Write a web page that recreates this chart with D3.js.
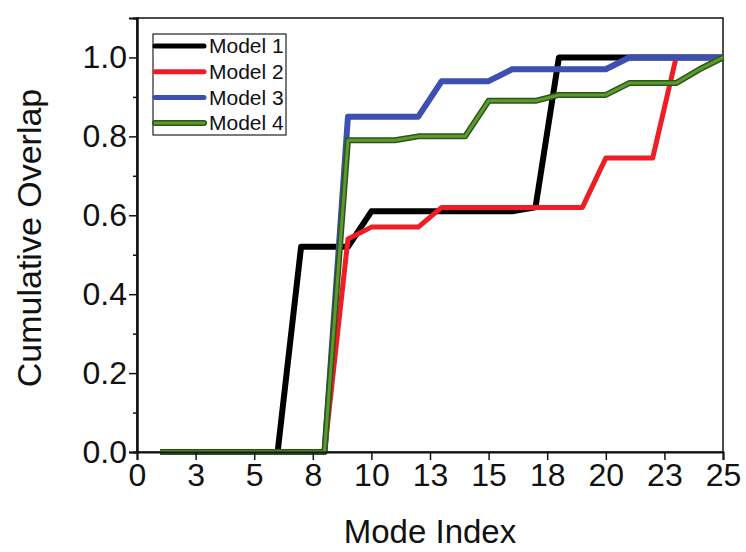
<!DOCTYPE html>
<html>
<head>
<meta charset="utf-8">
<script src="https://cdn.jsdelivr.net/npm/d3@7"></script>
<style>
  body { margin: 0; background: #fff; }
  svg text { font-family: Arial, 'Liberation Sans', Helvetica, sans-serif; fill: #111; }
</style>
</head>
<body>
<div id="line-chart"></div>
<script>
// mode index (x) and cumulative overlap of each model
const mode_index = [1, 2, 3, 4, 5, 6, 7, 8, 9, 10, 11, 12, 13, 14, 15, 16, 17, 18, 19, 20, 21, 22, 23, 24, 25];
const model_1 = [0, 0, 0, 0, 0, 0, 0.52, 0.52, 0.52, 0.61, 0.61, 0.61, 0.61, 0.61, 0.61, 0.61, 0.62, 1, 1, 1, 1, 1, 1, 1, 1];
const model_2 = [0, 0, 0, 0, 0, 0, 0, 0, 0.54, 0.57, 0.57, 0.57, 0.62, 0.62, 0.62, 0.62, 0.62, 0.62, 0.62, 0.745, 0.745, 0.745, 1, 1, 1];
const model_3 = [0, 0, 0, 0, 0, 0, 0, 0, 0.85, 0.85, 0.85, 0.85, 0.94, 0.94, 0.94, 0.97, 0.97, 0.97, 0.97, 0.97, 1, 1, 1, 1, 1];
const model_4 = [0, 0, 0, 0, 0, 0, 0, 0, 0.79, 0.79, 0.79, 0.8, 0.8, 0.8, 0.89, 0.89, 0.89, 0.905, 0.905, 0.905, 0.935, 0.935, 0.935, 0.97, 1];
const series_names = ['Model 1', 'Model 2', 'Model 3', 'Model 4'];
const x_ticks = [0, 2.5, 5, 7.5, 10, 12.5, 15, 17.5, 20, 22.5, 25];
const y_ticks = [0, 0.2, 0.4, 0.6, 0.8, 1.0];
const y_minor_ticks = [0.1, 0.3, 0.5, 0.7, 0.9];

const width = 746;
const height = 552;
const margin = { top: 18, right: 23, bottom: 100, left: 137 };
const font = "Arial, 'Liberation Sans', Helvetica, sans-serif";

const series = [
  { name: series_names[0], values: model_1, color: '#000000', width: 6 },
  { name: series_names[1], values: model_2, color: '#ee1d26', width: 5 },
  { name: series_names[2], values: model_3, color: '#3d4fb0', width: 6 },
  { name: series_names[3], values: model_4, color: '#5c9a30', width: 3, outline: '#2c5518' },
];

const x_scale = d3
  .scaleLinear()
  .domain([0, 25])
  .range([margin.left, width - margin.right]);
const y_scale = d3
  .scaleLinear()
  .domain([0, 1.1])
  .range([height - margin.bottom, margin.top]);

const svg = d3
  .select('#line-chart')
  .append('svg')
  .attr('width', width)
  .attr('height', height)
  .attr('viewBox', [0, 0, width, height]);

// frame
svg
  .append('rect')
  .attr('x', margin.left)
  .attr('y', margin.top)
  .attr('width', width - margin.left - margin.right)
  .attr('height', height - margin.top - margin.bottom)
  .attr('fill', 'none')
  .attr('stroke', '#111')
  .attr('stroke-width', 1.5);

const line = d3
  .line()
  .x((d, i) => x_scale(mode_index[i]))
  .y((d) => y_scale(d));

series.forEach((s) => {
  if (s.outline) {
    svg
      .append('path')
      .attr('d', line(s.values))
      .attr('fill', 'none')
      .attr('stroke', s.outline)
      .attr('stroke-width', s.width + 3)
      .attr('stroke-linejoin', 'round');
  }
  svg
    .append('path')
    .attr('d', line(s.values))
    .attr('fill', 'none')
    .attr('stroke', s.color)
    .attr('stroke-width', s.width)
    .attr('stroke-linejoin', 'round');
});

// axes
const x_axis = d3
  .axisBottom(x_scale)
  .tickValues(x_ticks)
  .tickSize(8)
  .tickPadding(3)
  .tickFormat(d3.format('.0f'));
const y_axis = d3
  .axisLeft(y_scale)
  .tickValues(y_ticks)
  .tickSize(8)
  .tickPadding(2)
  .tickFormat(d3.format('.1f'));
const y_minor = d3.axisLeft(y_scale).tickValues(y_minor_ticks).tickSize(4).tickFormat('');

const xAxis = svg
  .append('g')
  .attr('transform', `translate(0, ${height - margin.bottom})`)
  .call(x_axis);
const yAxis = svg
  .append('g')
  .attr('transform', `translate(${margin.left},0)`)
  .call(y_axis);
const yMinor = svg
  .append('g')
  .attr('transform', `translate(${margin.left},0)`)
  .call(y_minor);

[xAxis, yAxis, yMinor].forEach((g) => {
  g.attr('font-family', font);
  g.select('.domain').attr('stroke', '#111').attr('stroke-width', 2);
  g.selectAll('.tick line').attr('stroke', '#111').attr('stroke-width', 1.5);
  g.selectAll('.tick text').attr('font-size', 32).attr('fill', '#111');
});

// axis titles
svg
  .append('text')
  .attr('x', (margin.left + width - margin.right) / 2)
  .attr('y', 543)
  .attr('text-anchor', 'middle')
  .attr('font-size', 33)
  .text('Mode Index');

svg
  .append('text')
  .attr('transform', `translate(41, ${(margin.top + height - margin.bottom) / 2 + 3}) rotate(-90)`)
  .attr('text-anchor', 'middle')
  .attr('font-size', 34)
  .text('Cumulative Overlap');

// legend
const legend = svg.append('g').attr('transform', 'translate(153, 34)');
legend
  .append('rect')
  .attr('width', 133)
  .attr('height', 101)
  .attr('fill', '#fff')
  .attr('stroke', '#222')
  .attr('stroke-width', 1.2);

const item = legend
  .selectAll('g')
  .data(series)
  .enter()
  .append('g')
  .attr('transform', (d, i) => `translate(0, ${12 + i * 25.7})`);

item
  .filter((d) => d.outline)
  .append('line')
  .attr('x1', 2)
  .attr('x2', 51)
  .attr('stroke', (d) => d.outline)
  .attr('stroke-width', 6)
  .attr('stroke-linecap', 'round');
item
  .append('line')
  .attr('x1', 2)
  .attr('x2', 51)
  .attr('stroke', (d) => d.color)
  .attr('stroke-width', (d) => (d.outline ? 3 : 5))
  .attr('stroke-linecap', 'round');
item
  .append('text')
  .attr('x', 56)
  .attr('dy', '0.35em')
  .attr('font-size', 21)
  .text((d) => d.name);
</script>
</body>
</html>
